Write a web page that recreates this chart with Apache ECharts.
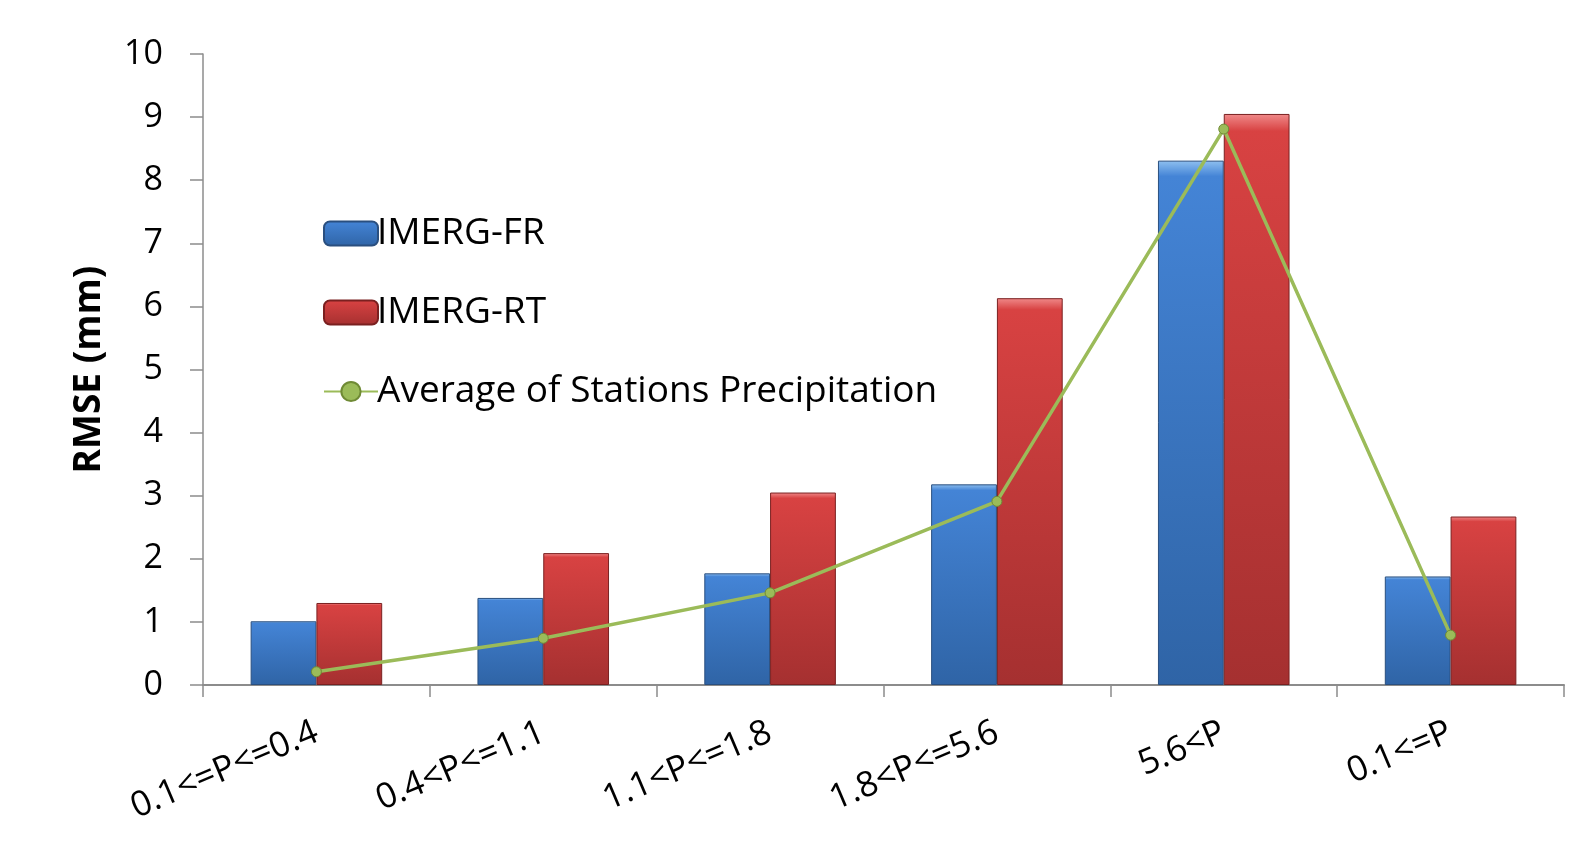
<!DOCTYPE html>
<html>
<head>
<meta charset="utf-8">
<script src="https://cdn.jsdelivr.net/npm/echarts@6/dist/echarts.min.js"></script>
<style>
html, body { margin: 0; padding: 0; background: #fff; }
#main { width: 1591px; height: 852px; }
</style>
</head>
<body>
<div id="main"></div>
<script>
// categories and values
var categories = ['0.1<=P<=0.4', '0.4<P<=1.1', '1.1<P<=1.8', '1.8<P<=5.6', '5.6<P', '0.1<=P'];
var imergFR = [1.01, 1.38, 1.77, 3.18, 8.31, 1.72];
var imergRT = [1.30, 2.09, 3.05, 6.13, 9.05, 2.67];
var stationAvg = [0.21, 0.74, 1.46, 2.91, 8.81, 0.79];

var myChart = echarts.init(document.getElementById('main'));

function barGrad(top, mid, bottom) {
	return new echarts.graphic.LinearGradient(0, 0, 0, 1, [
		{ offset: 0, color: top },
		{ offset: 0.03, color: mid },
		{ offset: 1, color: bottom }
	]);
}

var option = {
	animation : false,
	textStyle : { fontFamily : 'Open Sans' },
	grid : {
		left : 203,
		right : 27,
		top : 54,
		bottom : 167
	},
	legend : {
		orient : 'vertical',
		left : 318,
		top : 208,
		itemWidth : 54,
		itemHeight : 24,
		itemGap : 38,
		textStyle : {
			fontSize : 37,
			lineHeight : 41,
			color : '#000',
			padding : [0, 0, 0, -6]
		},
		data : ['IMERG-FR', 'IMERG-RT', 'Average of Stations Precipitation']
	},
	xAxis : [ {
		type : 'category',
		data : categories,
		axisLine : { lineStyle : { color : '#8c8c8c', width : 2 } },
		axisTick : { show : true, length : 12, lineStyle : { color : '#8c8c8c', width : 1.5 } },
		axisLabel : {
			rotate : 23,
			fontSize : 35,
			color : '#000',
			margin : 46,
			interval : 0
		}
	} ],
	yAxis : [ {
		type : 'value',
		min : 0,
		max : 10,
		interval : 1,
		name : 'RMSE (mm)',
		nameLocation : 'middle',
		nameGap : 95,
		nameTextStyle : { fontSize : 37, fontWeight : 'bold', color : '#000' },
		axisLine : { show : true, lineStyle : { color : '#8c8c8c', width : 1.5 } },
		axisTick : { show : true, length : 13, lineStyle : { color : '#8c8c8c', width : 1.5 } },
		splitLine : { show : false },
		axisLabel : { fontSize : 34, color : '#000', margin : 40 }
	} ],
	series : [ {
		name : 'IMERG-FR',
		type : 'bar',
		data : imergFR,
		barGap : '0%',
		barCategoryGap : '42%',
		itemStyle : {
			color : barGrad('#8fc0f0', '#4484d6', '#2f64a6'),
			borderColor : '#2a4f7f',
			borderWidth : 1
		}
	}, {
		name : 'IMERG-RT',
		type : 'bar',
		data : imergRT,
		itemStyle : {
			color : barGrad('#f08a8a', '#d84242', '#a53030'),
			borderColor : '#7a2020',
			borderWidth : 1
		}
	}, {
		name : 'Average of Stations Precipitation',
		type : 'line',
		data : stationAvg,
		symbol : 'circle',
		symbolSize : 10,
		itemStyle : { color : '#9bbb59', borderColor : '#6f8a35', borderWidth : 1 },
		lineStyle : { color : '#9bbb59', width : 3.5 },
		z : 5
	} ]
};

myChart.setOption(option);
</script>
</body>
</html>
